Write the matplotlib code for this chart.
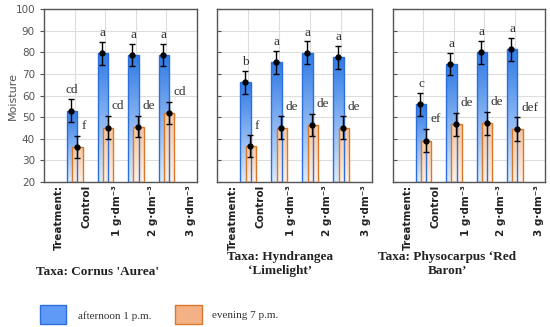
import numpy as np
import matplotlib.pyplot as plt
from matplotlib.colors import LinearSegmentedColormap

# data
tick_labels = ['Treatment:', 'Control', '1 g·dm⁻³', '2 g·dm⁻³', '3 g·dm⁻³']
taxa = ["Taxa: Cornus 'Aurea'", "Taxa: Hyndrangea\n‘Limelight’", "Taxa: Physocarpus ‘Red\nBaron’"]

afternoon = [[53.0, 79.5, 78.7, 78.7], [66.1, 75.3, 79.8, 77.7], [55.9, 74.6, 80.0, 81.4]]
afternoon_err = [[5.4, 5.4, 5.2, 5.2], [5.4, 5.4, 5.3, 5.3], [5.3, 5.1, 5.4, 5.4]]
evening = [[36.3, 45.1, 45.6, 52.0], [36.6, 45.1, 46.4, 45.1], [39.1, 46.7, 47.1, 44.5]]
evening_err = [[5.2, 5.4, 4.9, 5.2], [5.0, 5.3, 5.2, 5.3], [5.4, 5.4, 5.2, 5.4]]
afternoon_letters = [['cd', 'a', 'a', 'a'], ['b', 'a', 'a', 'a'], ['c', 'a', 'a', 'a']]
evening_letters = [['f', 'cd', 'de', 'cd'], ['f', 'de', 'de', 'de'], ['ef', 'de', 'de', 'def']]

blue_cmap = LinearSegmentedColormap.from_list('b', ['#dcebfd', '#2f7ae5'])
orange_cmap = LinearSegmentedColormap.from_list('o', ['#fdf1e8', '#f6c59c'])
grad = np.linspace(0, 1, 100).reshape(-1, 1)

fig = plt.figure(figsize=(5.5, 3.27), dpi=100)
lefts = [44 / 550, 217 / 550, 393 / 550]
widths = [153 / 550, 155 / 550, 152 / 550]
bottom, height = 1 - 182 / 327, 173 / 327
title_x = [97 / 550, 280 / 550, 447 / 550]
title_y = [1 - 272 / 327, 1 - 264 / 327, 1 - 264 / 327]

x = np.arange(1, 5)
label_pos = [0.5, 1.4, 2.4, 3.55, 4.8]
bw = 0.34

for i in range(3):
    ax = fig.add_axes([lefts[i], bottom, widths[i], height])
    ax.set_xlim(0, 5)
    ax.set_ylim(20, 100)

    def grad_bars(xs, tops, cmap, edge):
        bars = ax.bar(xs, np.array(tops) - 20, bottom=20, width=bw, color='none',
                      edgecolor=edge, linewidth=1.0, zorder=3)
        for b, xx, t in zip(bars, xs, tops):
            im = ax.imshow(grad, extent=[xx - bw / 2, xx + bw / 2, 20, t], origin='lower',
                           cmap=cmap, aspect='auto', zorder=2.5)
            im.set_clip_path(b)
        return bars

    grad_bars(x - 0.08, afternoon[i], blue_cmap, '#2c6fdc')
    grad_bars(x + 0.09, evening[i], orange_cmap, '#d9772b')
    ax.set_xlim(0, 5)
    ax.set_ylim(20, 100)

    ax.errorbar(x - 0.11, afternoon[i], yerr=afternoon_err[i], fmt='o', color='black',
                ms=3.5, elinewidth=1, capsize=2.5, capthick=1, zorder=5)
    ax.errorbar(x + 0.08, evening[i], yerr=evening_err[i], fmt='o', color='black',
                ms=3.5, elinewidth=1, capsize=2.5, capthick=1, zorder=5)

    for j in range(4):
        ax.text(x[j] - 0.08, afternoon[i][j] + afternoon_err[i][j] + 4, afternoon_letters[i][j],
                ha='center', va='center', fontsize=9.5, family='Liberation Serif', color='#333333')
        ax.text(x[j] + 0.22, evening[i][j] + evening_err[i][j] + 4.5, evening_letters[i][j],
                ha='left', va='center', fontsize=9.5, family='Liberation Serif', color='#333333')

    ax.set_xticks(x)
    ax.set_xticklabels([])
    ax.set_xticks(label_pos, minor=True)
    ax.set_xticklabels(tick_labels, minor=True, rotation=90, fontsize=7.5, fontweight='bold',
                       family=['DejaVu Sans'], color='#222222')
    ax.tick_params(axis='x', which='minor', length=0, pad=2)
    ax.tick_params(axis='x', which='major', direction='in', length=2, color='#555555')
    ax.set_yticks(np.arange(20, 101, 10))
    ax.grid(True, color='#dddddd', linewidth=0.8, zorder=0)
    ax.set_axisbelow(True)
    for s in ax.spines.values():
        s.set_color('#555555')
        s.set_linewidth(1.0)
    if i == 0:
        ax.tick_params(axis='y', direction='out', length=3, labelsize=7.5, labelcolor='#555555',
                       color='#555555')
        ax.set_ylabel('Moisture', fontsize=8, color='#555555')
        ax.yaxis.set_label_coords(-0.17, 0.5)
    else:
        ax.tick_params(axis='y', direction='in', length=3, labelleft=False, color='#555555')

    fig.text(title_x[i], title_y[i], taxa[i], ha='center', va='center', fontsize=9.5,
             fontweight='bold', family='Liberation Serif', color='#222222', linespacing=1.3)

# legend
fig.patches.append(plt.Rectangle((40 / 550, 1 - 324 / 327), 26 / 550, 19 / 327, transform=fig.transFigure,
                                 facecolor='#5f9bf6', edgecolor='#2c6fdc', linewidth=1))
fig.patches.append(plt.Rectangle((175 / 550, 1 - 324 / 327), 27 / 550, 19 / 327, transform=fig.transFigure,
                                 facecolor='#f4b185', edgecolor='#d9772b', linewidth=1))
fig.text(78 / 550, 1 - 316 / 327, 'afternoon 1 p.m.', va='center', fontsize=8,
         family='Liberation Serif', color='#333333')
fig.text(212 / 550, 1 - 316 / 327, 'evening 7 p.m.', va='center', fontsize=8,
         family='Liberation Serif', color='#333333')

fig.savefig('out.png', dpi=100)
